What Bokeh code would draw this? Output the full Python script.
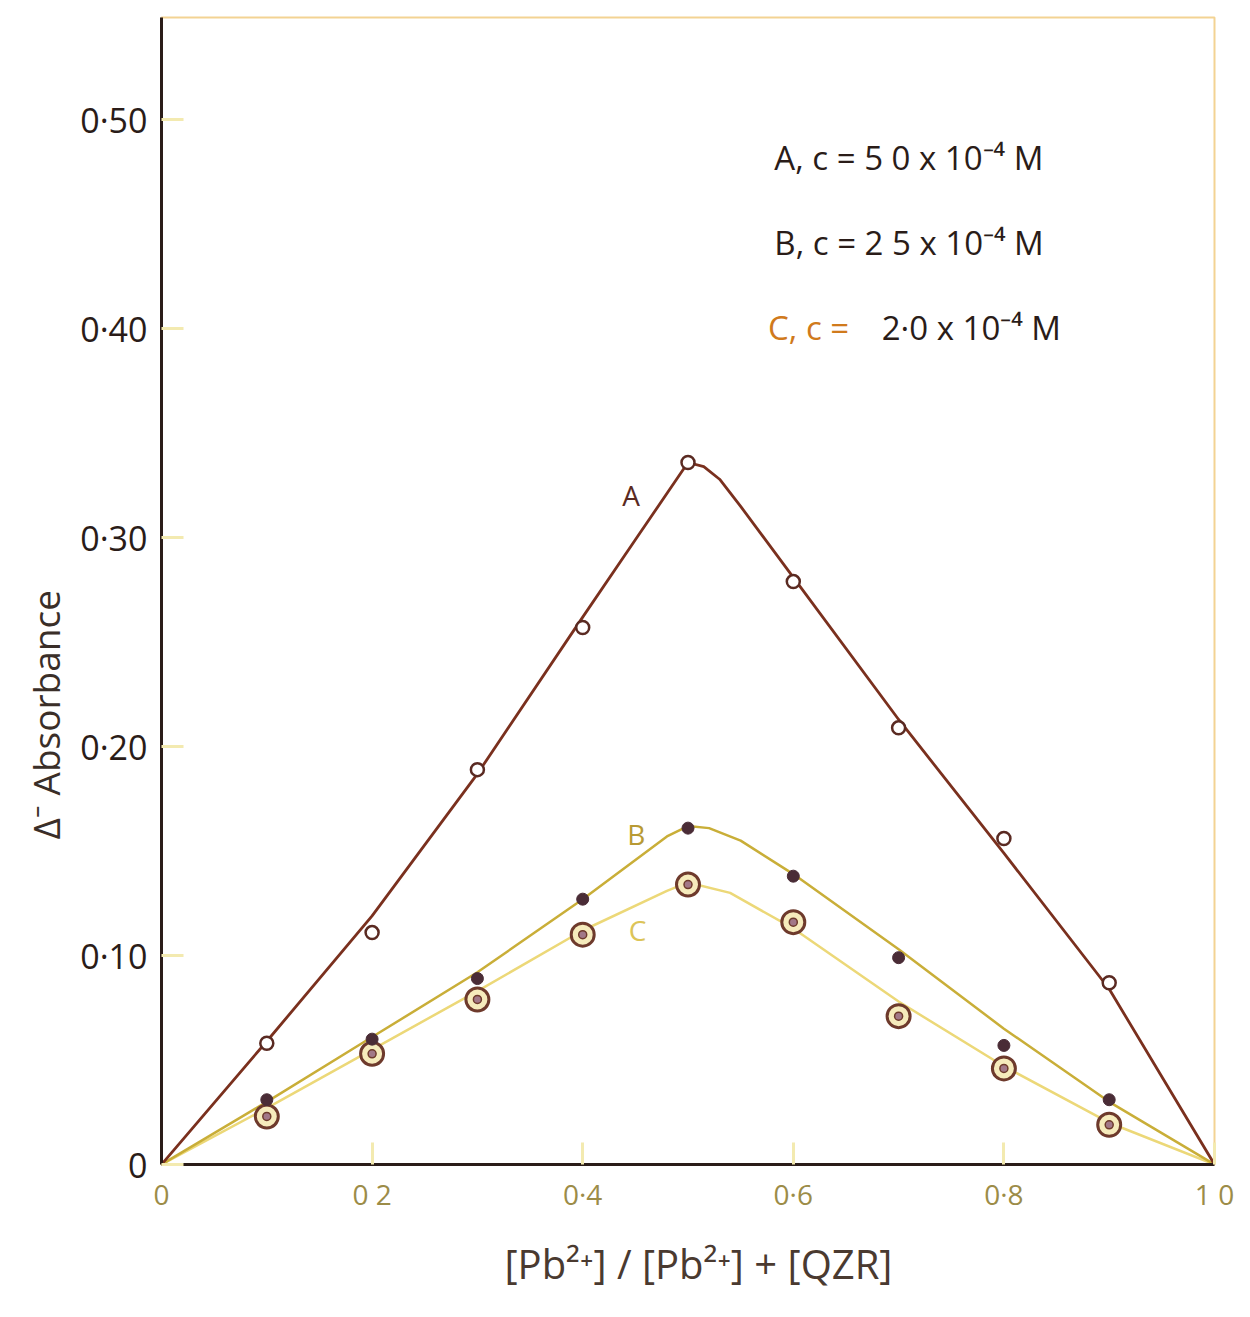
from bokeh.plotting import figure
from bokeh.models import Range1d, FixedTicker, Label, Title
from bokeh.embed import file_html
from bokeh.resources import INLINE

# ---- data ----
x_pts = [0.1, 0.2, 0.3, 0.4, 0.5, 0.6, 0.7, 0.8, 0.9]
a_pts = [0.058, 0.111, 0.189, 0.257, 0.336, 0.279, 0.209, 0.156, 0.087]
b_pts = [0.031, 0.060, 0.089, 0.127, 0.161, 0.138, 0.099, 0.057, 0.031]
c_pts = [0.023, 0.053, 0.079, 0.110, 0.134, 0.116, 0.071, 0.046, 0.019]

# fitted curves (as drawn in the reference)
a_curve_x = [0.0, 0.1, 0.2, 0.3, 0.4, 0.45, 0.5, 0.515, 0.53, 0.55, 0.6, 0.7, 0.8, 0.9, 1.0]
a_curve_y = [0.0, 0.059, 0.119, 0.187, 0.262, 0.299, 0.336, 0.334, 0.328, 0.315, 0.281, 0.213, 0.149, 0.084, 0.0]
b_curve_x = [0.0, 0.1, 0.2, 0.3, 0.4, 0.48, 0.5, 0.52, 0.55, 0.6, 0.7, 0.8, 0.9, 1.0]
b_curve_y = [0.0, 0.030, 0.061, 0.092, 0.127, 0.157, 0.162, 0.161, 0.155, 0.139, 0.103, 0.065, 0.030, 0.0]
c_curve_x = [0.0, 0.1, 0.2, 0.3, 0.4, 0.48, 0.5, 0.54, 0.6, 0.7, 0.8, 0.9, 1.0]
c_curve_y = [0.0, 0.027, 0.055, 0.083, 0.112, 0.131, 0.135, 0.130, 0.113, 0.078, 0.047, 0.020, 0.0]

x_ticks = [0.0, 0.2, 0.4, 0.6, 0.8, 1.0]
x_tick_labels = ["0", "0 2", "0·4", "0·6", "0·8", "1 0"]
y_ticks = [0.0, 0.1, 0.2, 0.3, 0.4, 0.5]
y_tick_labels = ["0", "0·10", "0·20", "0·30", "0·40", "0·50"]

legend_lines = ["A, c = 5 0 x 10\u207b\u2074 M", "B, c = 2 5 x 10\u207b\u2074 M", "2·0 x 10\u207b\u2074 M"]
legend_c_prefix = "C, c ="
legend_y = [0.4818, 0.4411, 0.4005]

x_title = "[Pb\u00b2\u207a] / [Pb\u00b2\u207a] + [QZR]"
y_title = "\u0394\u207b Absorbance"

FONT = "Open Sans"
DARK = "#2a1c18"

p = figure(frame_width=1053, frame_height=1147,
           x_range=Range1d(0, 1.0), y_range=Range1d(0, 0.549),
           output_backend="svg", toolbar_location=None,
           min_border_left=161, min_border_right=20,
           min_border_top=17, min_border_bottom=128)

p.background_fill_color = "white"
p.border_fill_color = "white"
p.xgrid.visible = False
p.ygrid.visible = False
p.outline_line_color = "#f0c878"
p.outline_line_width = 2
p.outline_line_alpha = 0.8

# axes
p.xaxis.ticker = FixedTicker(ticks=x_ticks)
p.yaxis.ticker = FixedTicker(ticks=y_ticks)
p.xaxis.major_label_overrides = {t: l for t, l in zip(x_ticks, x_tick_labels)}
p.yaxis.major_label_overrides = {t: l for t, l in zip(y_ticks, y_tick_labels)}
for ax in (p.xaxis, p.yaxis):
    ax.axis_line_color = DARK
    ax.axis_line_width = 3
    ax.minor_tick_line_color = None
    ax.major_tick_out = 0
    ax.major_tick_in = 22
    ax.major_tick_line_color = "#f3eab0"
    ax.major_tick_line_width = 3
    ax.major_label_text_font = FONT
p.yaxis.major_label_text_font_size = "34px"
p.yaxis.major_label_text_color = DARK
p.yaxis.major_label_standoff = 14
p.xaxis.major_label_text_font_size = "28px"
p.xaxis.major_label_text_color = "#9c8c48"
p.xaxis.major_label_standoff = 10

# axis titles as side-panel titles, so they can be placed like the reference
yt = Title(text=y_title, align="left", offset=325, standoff=14,
           text_font=FONT, text_font_size="37px", text_font_style="normal",
           text_color="#3a2e28")
p.add_layout(yt, "left")
xt = Title(text=x_title, align="left", offset=343, standoff=36,
           text_font=FONT, text_font_size="40px", text_font_style="normal",
           text_color="#4a3a30")
p.add_layout(xt, "below")

# curves
p.line(c_curve_x, c_curve_y, line_color="#ecd878", line_width=2.5)
p.line(b_curve_x, b_curve_y, line_color="#c9ae38", line_width=2.5)
p.line(a_curve_x, a_curve_y, line_color="#7a301e", line_width=2.8)

# markers
p.scatter(x_pts, c_pts, marker="circle", size=23, fill_color="#f6ebbc",
          line_color="#6e3a2c", line_width=3)
p.scatter(x_pts, c_pts, marker="circle", size=8, fill_color="#a27888",
          line_color="#6e3a2c", line_width=1.5)
p.scatter(x_pts, b_pts, marker="circle", size=12, fill_color="#4a2c36",
          line_color="#4a2c36", line_width=1)
p.scatter(x_pts, a_pts, marker="circle", size=13, fill_color="white",
          line_color="#5a2a22", line_width=2.5)

# curve labels
for txt, lx, ly, col in [("A", 0.446, 0.3206, "#5a2a22"),
                         ("B", 0.451, 0.158, "#b89a34"),
                         ("C", 0.452, 0.1124, "#dcc458")]:
    p.add_layout(Label(x=lx, y=ly, text=txt, text_font=FONT, text_font_size="28px",
                       text_color=col, text_align="center", text_baseline="middle"))

# concentration legend
for i, txt in enumerate(legend_lines):
    if i < 2:
        p.add_layout(Label(x=0.582, y=legend_y[i], text=txt, text_font=FONT,
                           text_font_size="33px", text_color=DARK,
                           text_baseline="middle"))
    else:
        p.add_layout(Label(x=0.576, y=legend_y[i], text=legend_c_prefix, text_font=FONT,
                           text_font_size="33px", text_color="#d07a1c",
                           text_baseline="middle"))
        p.add_layout(Label(x=0.684, y=legend_y[i], text=txt, text_font=FONT,
                           text_font_size="33px", text_color=DARK,
                           text_baseline="middle"))

open("out.html", "w").write(file_html(p, INLINE))
